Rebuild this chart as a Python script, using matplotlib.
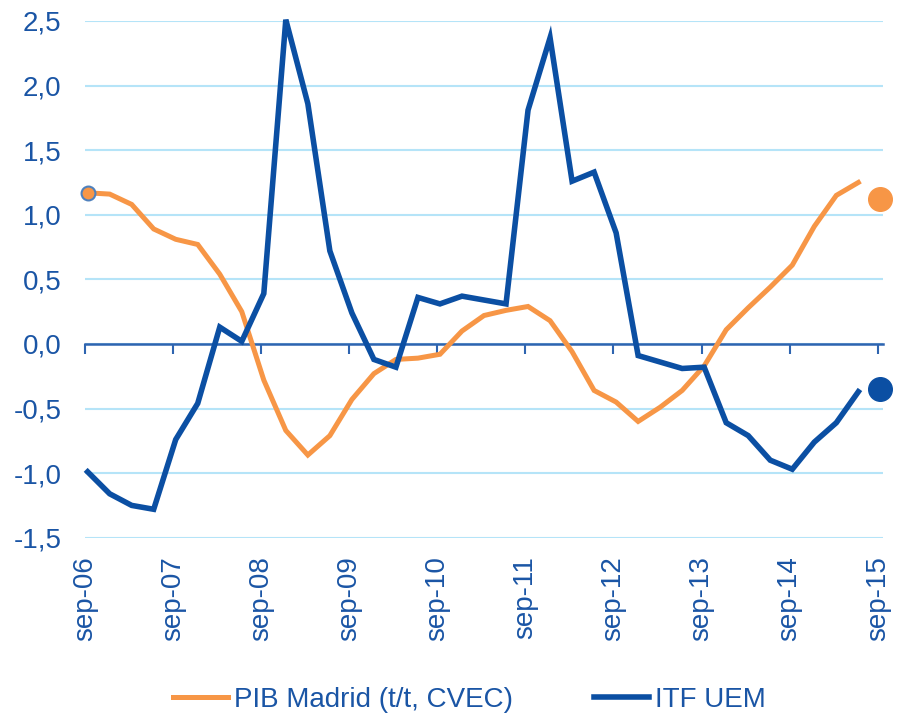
import numpy as np
import matplotlib
matplotlib.use('Agg')
import matplotlib.pyplot as plt

plt.rcParams['font.family'] = ['Liberation Sans', 'DejaVu Sans']

# quarterly data, sep-06 .. jun-15
pib_madrid = [1.17, 1.16, 1.08, 0.89, 0.81, 0.77, 0.54, 0.25,
              -0.28, -0.67, -0.86, -0.71, -0.43, -0.23, -0.12, -0.11,
              -0.08, 0.10, 0.22, 0.26, 0.29, 0.18, -0.06, -0.36,
              -0.45, -0.60, -0.49, -0.36, -0.17, 0.11, 0.28, 0.44,
              0.61, 0.91, 1.15, 1.25]
itf_uem = [-0.99, -1.16, -1.25, -1.28, -0.74, -0.46, 0.13, 0.02,
           0.39, 2.51, 1.86, 0.72, 0.24, -0.12, -0.18, 0.36,
           0.31, 0.37, 0.34, 0.31, 1.81, 2.37, 1.26, 1.33,
           0.86, -0.09, -0.14, -0.19, -0.18, -0.61, -0.71, -0.90,
           -0.97, -0.76, -0.61, -0.37]
# forecast points for sep-15
pib_last = 1.12
itf_last = -0.35

tick_labels = ['sep-06', 'sep-07', 'sep-08', 'sep-09', 'sep-10',
               'sep-11', 'sep-12', 'sep-13', 'sep-14', 'sep-15']

orange = '#f79646'
blue = '#0b4fa3'
text_blue = '#1a55a5'
grid_blue = '#b5e4f8'

fig = plt.figure(figsize=(8.97, 7.16), dpi=100)
ax = fig.add_axes([85 / 897, 1 - 537.7 / 716, 798 / 897, 516.7 / 716])

x = np.arange(len(pib_madrid)) + 0.12

ax.plot(x, pib_madrid, color=orange, lw=3.6, solid_joinstyle='miter', zorder=3,
        clip_on=False, label='PIB Madrid (t/t, CVEC)')
ax.plot(x, itf_uem, color=blue, lw=4.0, solid_joinstyle='miter', zorder=4,
        clip_on=False, label='ITF UEM')
ax.plot(x[0], pib_madrid[0], 'o', ms=10, mfc=orange, mec='#4f81bd', mew=1.5,
        zorder=5, clip_on=False)
ax.plot(len(pib_madrid) + 0.12, pib_last, 'o', ms=17, color=orange, zorder=5,
        clip_on=False)
ax.plot(len(itf_uem) + 0.12, itf_last, 'o', ms=17, color=blue, zorder=5,
        clip_on=False)

ax.set_xlim(0, 36.24)
ax.set_ylim(-1.5, 2.5)
yt = np.arange(-1.5, 2.51, 0.5)
ax.set_yticks(yt)
ax.set_yticklabels([('%.1f' % v).replace('.', ',') for v in yt])
ax.tick_params(axis='y', length=0, pad=17, labelsize=20, labelcolor=text_blue)
ax.grid(axis='y', color=grid_blue, lw=1.5)
ax.set_axisbelow(True)

for s in ['top', 'right', 'left']:
    ax.spines[s].set_visible(False)
ax.spines['bottom'].set_position(('data', 0))
ax.spines['bottom'].set_color('#2e64b0')
ax.spines['bottom'].set_linewidth(1.8)
ax.set_xticks(np.arange(0, 37, 4))
ax.tick_params(axis='x', direction='out', length=7, width=1.5, color='#2e64b0',
               labelbottom=False)

sec = ax.secondary_xaxis(location=0)
sec.set_xticks(np.arange(0, 37, 4))
sec.set_xticklabels(tick_labels, rotation=90)
sec.tick_params(axis='x', length=0, pad=13, labelsize=20, labelcolor=text_blue)
sec.spines['bottom'].set_visible(False)

leg = fig.legend(loc='center', bbox_to_anchor=(0.523, 1 - 700 / 716), ncol=2,
                 frameon=False, fontsize=20, handlelength=2.0, handletextpad=0.2,
                 columnspacing=2.9)
for t in leg.get_texts():
    t.set_color(text_blue)

fig.savefig('out.png', dpi=100)
